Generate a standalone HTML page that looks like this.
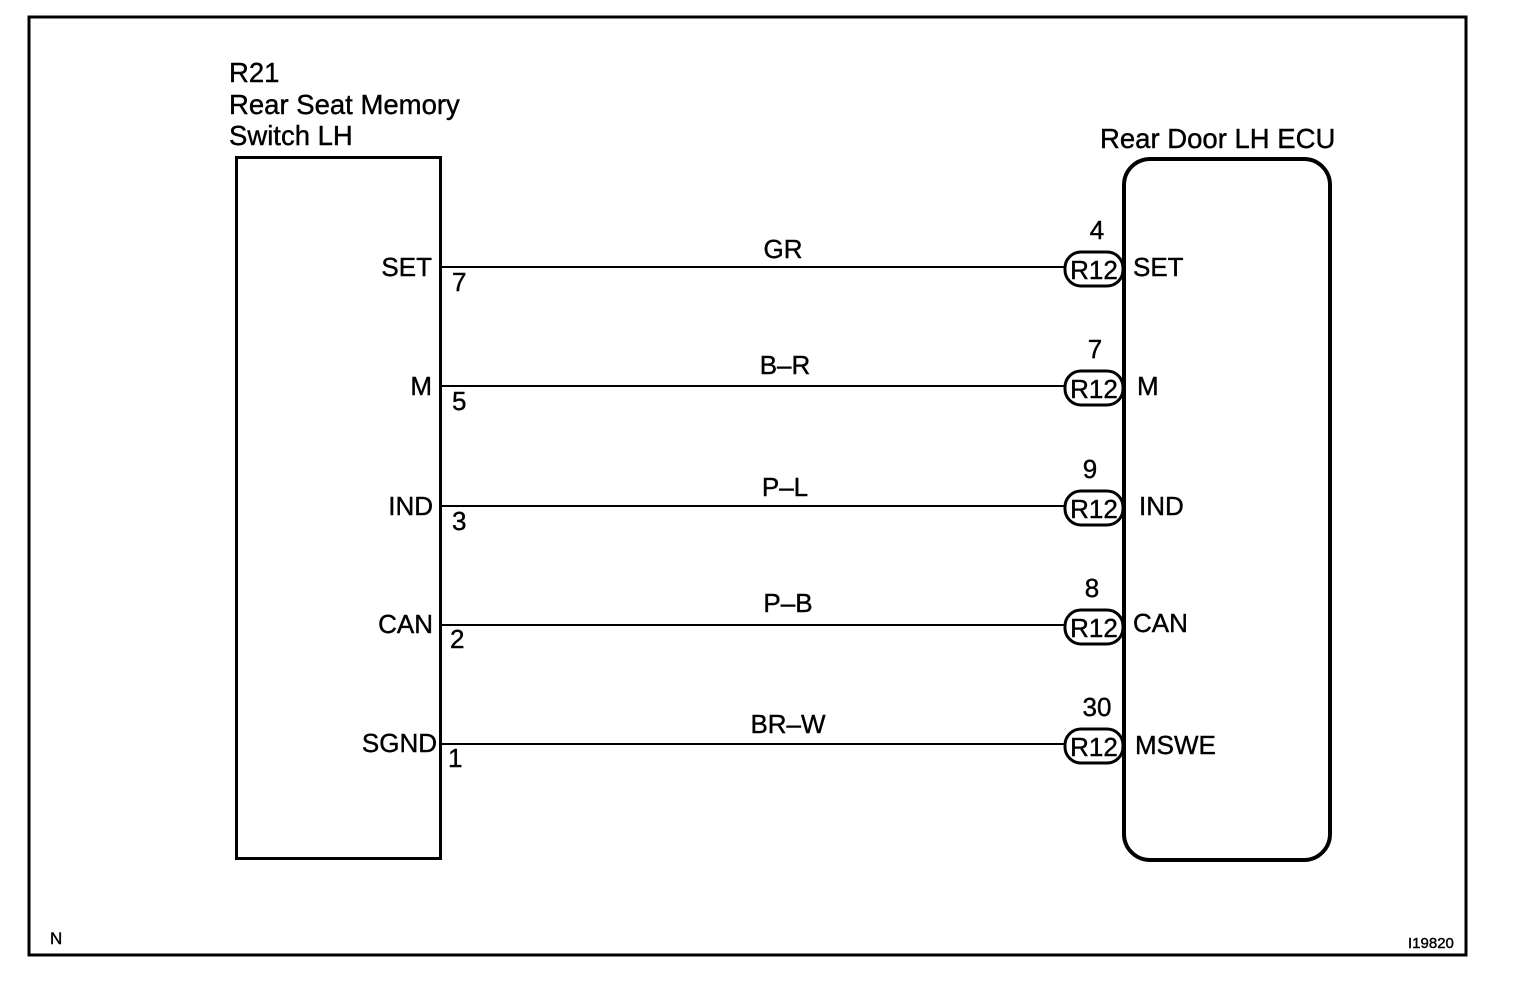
<!DOCTYPE html>
<html><head><meta charset="utf-8"><style>
html,body{margin:0;padding:0;background:#fff}
svg{display:block}
text{font-family:"Liberation Sans",Arial,sans-serif;fill:#000;stroke:#000;stroke-width:0.4}
</style></head><body>
<svg width="1520" height="992" viewBox="0 0 1520 992">
<rect x="29" y="17" width="1437" height="938" fill="none" stroke="#000" stroke-width="3"/>
<rect x="236.5" y="157.5" width="204" height="701" fill="none" stroke="#000" stroke-width="3"/>
<rect x="1124" y="159" width="206" height="701" rx="26" fill="none" stroke="#000" stroke-width="4"/>
<g font-size="27.5">
<text x="229" y="82">R21</text>
<text x="229" y="114">Rear Seat Memory</text>
<text x="229" y="145">Switch LH</text>
<text x="1100" y="148">Rear Door LH ECU</text>
</g>
<g stroke="#000" stroke-width="2">
<line x1="441" y1="267" x2="1064" y2="267"/>
<line x1="441" y1="386" x2="1064" y2="386"/>
<line x1="441" y1="506" x2="1064" y2="506"/>
<line x1="441" y1="625" x2="1064" y2="625"/>
<line x1="441" y1="744" x2="1064" y2="744"/>
</g>
<g fill="#fff" stroke="#000" stroke-width="3">
<rect x="1065" y="252" width="58" height="34" rx="16"/>
<rect x="1065" y="371" width="58" height="34" rx="16"/>
<rect x="1065" y="491" width="58" height="34" rx="16"/>
<rect x="1065" y="610" width="58" height="34" rx="16"/>
<rect x="1065" y="729" width="58" height="34" rx="16"/>
</g>
<g font-size="26" text-anchor="middle">
<text x="1094" y="279">R12</text>
<text x="1094" y="398">R12</text>
<text x="1094" y="518">R12</text>
<text x="1094" y="637">R12</text>
<text x="1094" y="756">R12</text>
<text x="1097" y="239">4</text>
<text x="1095" y="358">7</text>
<text x="1090" y="478">9</text>
<text x="1092" y="597">8</text>
<text x="1097" y="716">30</text>
<text x="783" y="258">GR</text>
<text x="785" y="374">B–R</text>
<text x="785" y="496">P–L</text>
<text x="788" y="612">P–B</text>
<text x="788" y="733">BR–W</text>
</g>
<g font-size="26" text-anchor="end">
<text x="432" y="276">SET</text>
<text x="432" y="395">M</text>
<text x="433" y="515">IND</text>
<text x="433" y="633">CAN</text>
<text x="437" y="752">SGND</text>
</g>
<g font-size="26">
<text x="452" y="291">7</text>
<text x="452" y="410">5</text>
<text x="452" y="530">3</text>
<text x="450" y="648">2</text>
<text x="448" y="767">1</text>
<text x="1133" y="276">SET</text>
<text x="1137" y="395">M</text>
<text x="1139" y="515">IND</text>
<text x="1133" y="632">CAN</text>
<text x="1135" y="754">MSWE</text>
</g>
<text x="50" y="944" font-size="17">N</text>
<text x="1408" y="948" font-size="15">I19820</text>
</svg>
</body></html>
